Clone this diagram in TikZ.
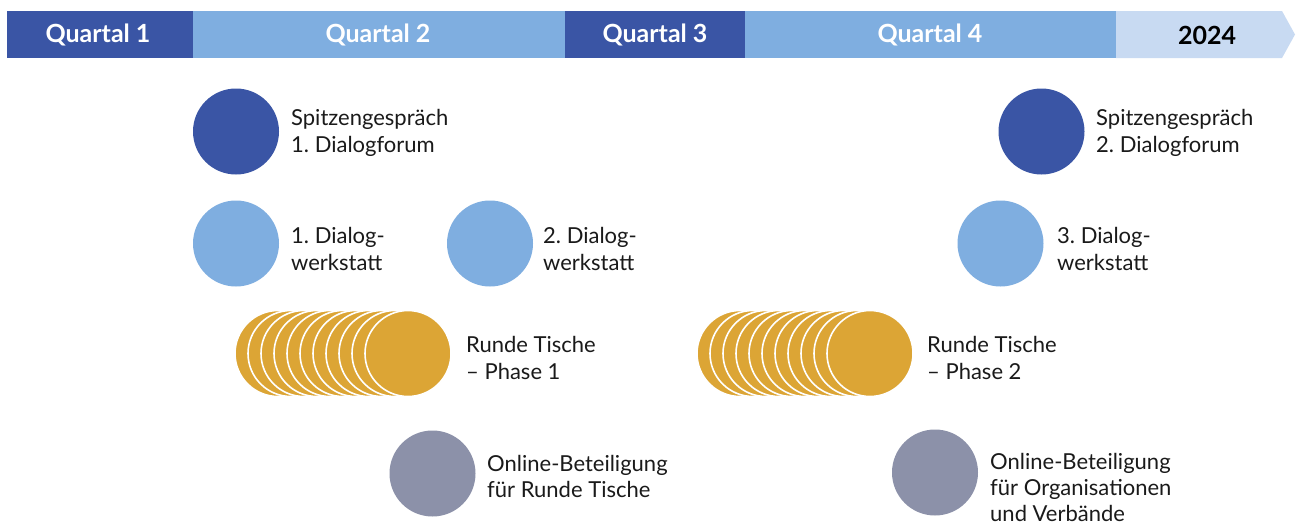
\documentclass[tikz,border=0pt]{standalone}
\usepackage{fontspec}
\setmainfont{Lato}
\frenchspacing
\definecolor{qdark}{HTML}{3A55A5}
\definecolor{qlight}{HTML}{7FAEE0}
\definecolor{qpale}{HTML}{C8DAF2}
\definecolor{rtgold}{HTML}{DCA535}
\definecolor{olgray}{HTML}{8C91A9}
\definecolor{txt}{HTML}{1A1A1A}
\begin{document}
\begin{tikzpicture}[x=1pt,y=-1pt,
  seg/.style={font=\fontsize{25}{30}\selectfont\bfseries},
  dot/.style={circle,minimum size=86pt,inner sep=0pt,draw=none},
  coin/.style={circle,minimum size=86pt,inner sep=0pt,fill=rtgold,draw=white,line width=1.6pt},
  lbl/.style={anchor=base west,inner sep=0pt,text=txt,font=\fontsize{22}{26}\selectfont}]
\useasboundingbox (0,0) rectangle (1296,528);
\fill[white] (0,0) rectangle (1296,528);

% quarter timeline bar
\fill[qdark]  (7,11)   rectangle (193,58);
\fill[qlight] (193,11) rectangle (565,58);
\fill[qdark]  (565,11) rectangle (745,58);
\fill[qlight] (745,11) rectangle (1116,58);
\fill[qpale]  (1116,11) -- (1282,11) -- (1295,34.5) -- (1282,58) -- (1116,58) -- cycle;
\node[seg,text=white] (q1) at (98,35) {Quartal 1};
\node[seg,text=white] (q2) at (378,35) {Quartal 2};
\node[seg,text=white] (q3) at (655,35) {Quartal 3};
\node[seg,text=white] (q4) at (930,35) {Quartal 4};
\node[seg,text=black] (y24) at (1207,35) {2024};

% first half of the year
\node[dot,fill=qdark]  (sp1) at (236,131.5) {};
\node[lbl] (sp1a) at (291,125) {Spitzengespräch};
\node[lbl] (sp1b) at (291,152) {1. Dialogforum};

\node[dot,fill=qlight] (dw1) at (236,243.5) {};
\node[lbl] (dw1a) at (291,243) {1. Dialog-};
\node[lbl] (dw1b) at (291,270) {werkstatt};

\node[dot,fill=qlight] (dw2) at (490,243.5) {};
\node[lbl] (dw2a) at (543,243) {2. Dialog-};
\node[lbl] (dw2b) at (543,270) {werkstatt};

\foreach \i in {0,...,10}
  \node[coin] (rta\i) at (278+13*\i,353.5) {};
\node[lbl] (rt1a) at (466,352) {Runde Tische};
\node[lbl] (rt1b) at (466,379) {– Phase 1};

\node[dot,fill=olgray] (ob1) at (432.5,473.5) {};
\node[lbl] (ob1a) at (487,471) {Online-Beteiligung};
\node[lbl] (ob1b) at (487,497) {für Runde Tische};

% second half of the year
\node[dot,fill=qdark]  (sp2) at (1041.5,131.5) {};
\node[lbl] (sp2a) at (1096,125) {Spitzengespräch};
\node[lbl] (sp2b) at (1096,152) {2. Dialogforum};

\node[dot,fill=qlight] (dw3) at (1000.5,243.5) {};
\node[lbl] (dw3a) at (1057,243) {3. Dialog-};
\node[lbl] (dw3b) at (1057,270) {werkstatt};

\foreach \i in {0,...,10}
  \node[coin] (rtb\i) at (740+13*\i,353.5) {};
\node[lbl] (rt2a) at (927,352) {Runde Tische};
\node[lbl] (rt2b) at (927,379) {– Phase 2};

\node[dot,fill=olgray] (ob2) at (935,472.5) {};
\node[lbl] (ob2a) at (990,469) {Online-Beteiligung};
\node[lbl] (ob2b) at (990,495) {für Organisationen};
\node[lbl] (ob2c) at (990,521) {und Verbände};
\end{tikzpicture}
\end{document}
